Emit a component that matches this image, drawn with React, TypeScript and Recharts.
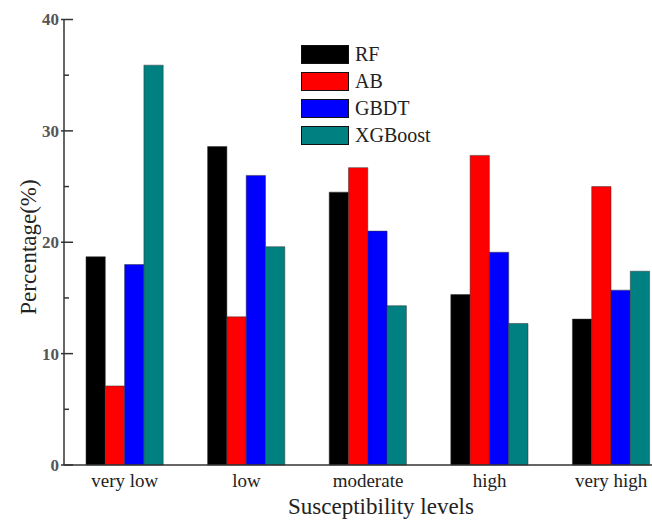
import { BarChart, Bar, XAxis, YAxis } from "recharts";

const categories = ["very low", "low", "moderate", "high", "very high"];
const rf = [18.7, 28.6, 24.5, 15.3, 13.1];
const ab = [7.1, 13.3, 26.7, 27.8, 25.0];
const gbdt = [18.0, 26.0, 21.0, 19.1, 15.7];
const xgb = [35.9, 19.6, 14.3, 12.7, 17.4];
const yTicks = [0, 5, 10, 15, 20, 25, 30, 35, 40];

const SERIF = '"Liberation Serif", "Times New Roman", serif';

const SERIES = [
  { key: "RF", color: "#000000" },
  { key: "AB", color: "#ff0000" },
  { key: "GBDT", color: "#0000ff" },
  { key: "XGBoost", color: "#008080" },
];

const data = categories.map((name, i) => ({
  name,
  RF: rf[i],
  AB: ab[i],
  GBDT: gbdt[i],
  XGBoost: xgb[i],
}));

function YTick(props: any) {
  const { x, y, payload } = props;
  const major = payload.value % 10 === 0;
  return (
    <g>
      <line
        x1={major ? x - 3 : x}
        x2={major ? x + 9 : x + 5}
        y1={y}
        y2={y}
        stroke="#333"
        strokeWidth={1.5}
      />
      {major && (
        <text
          x={x - 5}
          y={y}
          dy="0.35em"
          textAnchor="end"
          fontFamily={SERIF}
          fontSize={17}
          fontWeight="bold"
          fill="#555"
        >
          {payload.value}
        </text>
      )}
    </g>
  );
}

function XTick(props: any) {
  const { x, y, payload } = props;
  return (
    <text
      x={x}
      y={y + 22}
      textAnchor="middle"
      fontFamily={SERIF}
      fontSize={19}
      fill="#222"
    >
      {payload.value}
    </text>
  );
}

// legend drawn as an overlay so it doesn't shrink the plot
function LegendBox() {
  return (
    <div
      style={{
        position: "absolute",
        left: 301,
        top: 41,
        fontFamily: SERIF,
      }}
    >
      {SERIES.map((s) => (
        <div key={s.key} style={{ display: "flex", alignItems: "center", height: 27 }}>
          <div
            style={{
              width: 46,
              height: 17,
              background: s.color,
              border: "1.5px solid #111",
              marginRight: 6,
            }}
          />
          <span style={{ fontSize: 20, color: "#222" }}>{s.key}</span>
        </div>
      ))}
    </div>
  );
}

export default function App() {
  return (
    <div
      style={{
        position: "fixed",
        left: 0,
        top: 0,
        width: 652,
        height: 520,
        overflow: "hidden",
        background: "#fff",
      }}
    >
      <BarChart
        width={672}
        height={520}
        data={data}
        margin={{ top: 19.5, right: 0, left: 0, bottom: 0 }}
        barGap={0}
        barSize={19.3}
      >
        <XAxis
          dataKey="name"
          height={55}
          tickLine={false}
          tickSize={0}
          tickMargin={0}
          axisLine={{ stroke: "#333", strokeWidth: 1.5 }}
          tick={<XTick />}
          label={{
            content: (p: any) => {
              const vb = p.viewBox;
              return (
                <text
                  x={vb.x + vb.width / 2 + 13}
                  y={514}
                  textAnchor="middle"
                  fontFamily={SERIF}
                  fontSize={23}
                  fill="#222"
                >
                  Susceptibility levels
                </text>
              );
            },
          }}
        />
        <YAxis
          width={64}
          domain={[0, 40]}
          ticks={yTicks}
          interval={0}
          tickLine={false}
          tickSize={0}
          tickMargin={0}
          axisLine={{ stroke: "#333", strokeWidth: 1.5 }}
          tick={<YTick />}
          label={{
            content: () => (
              <text
                x={36}
                y={247}
                transform="rotate(-90 36 247)"
                textAnchor="middle"
                fontFamily={SERIF}
                fontSize={23}
                fill="#222"
              >
                Percentage(%)
              </text>
            ),
          }}
        />
        {SERIES.map((s) => (
          <Bar
            key={s.key}
            dataKey={s.key}
            fill={s.color}
            stroke="#333"
            strokeWidth={0.5}
            isAnimationActive={false}
          />
        ))}
      </BarChart>
      <LegendBox />
    </div>
  );
}
